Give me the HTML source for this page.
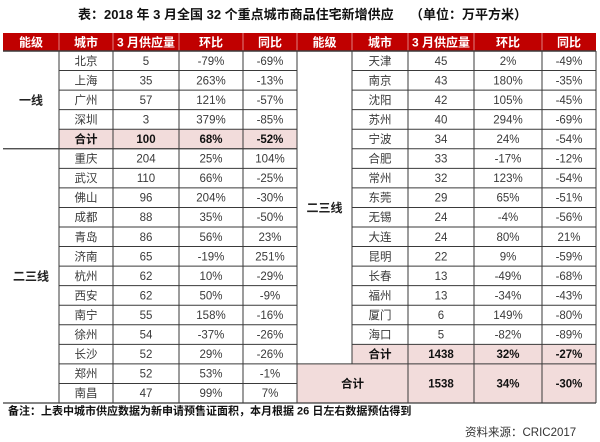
<!DOCTYPE html>
<html><head><meta charset="utf-8"><style>
html,body{margin:0;padding:0;background:#fff;}
svg{display:block;}
text{font-family:"Liberation Sans","Noto Sans CJK SC",sans-serif;}
</style></head><body>
<svg width="600" height="442" viewBox="0 0 600 442" xmlns="http://www.w3.org/2000/svg">
<rect width="600" height="442" fill="#fff"/>
<!-- title -->
<text x="78" y="19" font-size="13" font-weight="bold" fill="#111">表：2018 年 3 月全国 32 个重点城市商品住宅新增供应</text>
<text x="410" y="19" font-size="13" font-weight="bold" fill="#111">（单位：万平方米）</text>

<!-- header -->
<rect x="3" y="33" width="593" height="18" fill="#c00000"/>
<g stroke="#e6a0a0" stroke-width="0.8">
<line x1="59" y1="33" x2="59" y2="51"/><line x1="113" y1="33" x2="113" y2="51"/><line x1="179" y1="33" x2="179" y2="51"/><line x1="243" y1="33" x2="243" y2="51"/><line x1="297" y1="33" x2="297" y2="51"/>
<line x1="352" y1="33" x2="352" y2="51"/><line x1="408" y1="33" x2="408" y2="51"/><line x1="474" y1="33" x2="474" y2="51"/><line x1="542" y1="33" x2="542" y2="51"/>
</g>
<g font-size="12" font-weight="bold" fill="#fff" text-anchor="middle">
<text x="31" y="46.5">能级</text><text x="86" y="46.5">城市</text><text x="146" y="46.5">3 月供应量</text><text x="211" y="46.5">环比</text><text x="270" y="46.5">同比</text>
<text x="324.5" y="46.5">能级</text><text x="380" y="46.5">城市</text><text x="441" y="46.5">3 月供应量</text><text x="508" y="46.5">环比</text><text x="569" y="46.5">同比</text>
</g>

<!-- pink backgrounds -->
<rect x="59" y="129.22" width="238" height="19.56" fill="#f2dcdb"/>
<rect x="352" y="344.33" width="244" height="19.56" fill="#f2dcdb"/>
<rect x="297" y="363.89" width="299" height="39.11" fill="#f2dcdb"/>

<!-- grid lines -->
<g stroke="#3a3a3a" stroke-width="1">
<line x1="3" y1="51" x2="596" y2="51" stroke-width="1.5"/>
<!-- left horizontals -->
<line x1="59" y1="70.56" x2="297" y2="70.56"/>
<line x1="59" y1="90.11" x2="297" y2="90.11"/>
<line x1="59" y1="109.67" x2="297" y2="109.67"/>
<line x1="59" y1="129.22" x2="297" y2="129.22"/>
<line x1="3" y1="148.78" x2="297" y2="148.78" stroke-width="1.3"/>
<line x1="59" y1="168.33" x2="297" y2="168.33"/>
<line x1="59" y1="187.89" x2="297" y2="187.89"/>
<line x1="59" y1="207.44" x2="297" y2="207.44"/>
<line x1="59" y1="227" x2="297" y2="227"/>
<line x1="59" y1="246.56" x2="297" y2="246.56"/>
<line x1="59" y1="266.11" x2="297" y2="266.11"/>
<line x1="59" y1="285.67" x2="297" y2="285.67"/>
<line x1="59" y1="305.22" x2="297" y2="305.22"/>
<line x1="59" y1="324.78" x2="297" y2="324.78"/>
<line x1="59" y1="344.33" x2="297" y2="344.33"/>
<line x1="59" y1="363.89" x2="297" y2="363.89"/>
<line x1="59" y1="383.44" x2="297" y2="383.44"/>
<line x1="3" y1="403" x2="596" y2="403" stroke-width="1.3"/>
<!-- right horizontals -->
<line x1="352" y1="70.56" x2="596" y2="70.56"/>
<line x1="352" y1="90.11" x2="596" y2="90.11"/>
<line x1="352" y1="109.67" x2="596" y2="109.67"/>
<line x1="352" y1="129.22" x2="596" y2="129.22"/>
<line x1="352" y1="148.78" x2="596" y2="148.78"/>
<line x1="352" y1="168.33" x2="596" y2="168.33"/>
<line x1="352" y1="187.89" x2="596" y2="187.89"/>
<line x1="352" y1="207.44" x2="596" y2="207.44"/>
<line x1="352" y1="227" x2="596" y2="227"/>
<line x1="352" y1="246.56" x2="596" y2="246.56"/>
<line x1="352" y1="266.11" x2="596" y2="266.11"/>
<line x1="352" y1="285.67" x2="596" y2="285.67"/>
<line x1="352" y1="305.22" x2="596" y2="305.22"/>
<line x1="352" y1="324.78" x2="596" y2="324.78"/>
<line x1="352" y1="344.33" x2="596" y2="344.33"/>
<line x1="297" y1="363.89" x2="596" y2="363.89"/>
<!-- verticals -->
<line x1="59" y1="51" x2="59" y2="403"/>
<line x1="113" y1="51" x2="113" y2="403"/>
<line x1="179" y1="51" x2="179" y2="403"/>
<line x1="243" y1="51" x2="243" y2="403"/>
<line x1="297" y1="51" x2="297" y2="403"/>
<line x1="352" y1="51" x2="352" y2="363.89"/>
<line x1="408" y1="51" x2="408" y2="403"/>
<line x1="474" y1="51" x2="474" y2="403"/>
<line x1="542" y1="51" x2="542" y2="403"/>
<line x1="596" y1="51" x2="596" y2="403"/>
</g>

<!-- group labels -->
<g font-size="12" font-weight="bold" fill="#222" text-anchor="middle">
<text x="31" y="104.4">一线</text>
<text x="31" y="280.4">二三线</text>
<text x="324.5" y="211.9">二三线</text>
</g>

<!-- left data -->
<g font-size="11.5" fill="#3a3a3a" text-anchor="middle">
<text x="86" y="64.8">北京</text><text x="146" y="64.8">5</text><text x="211" y="64.8">-79%</text><text x="270" y="64.8">-69%</text>
<text x="86" y="84.4">上海</text><text x="146" y="84.4">35</text><text x="211" y="84.4">263%</text><text x="270" y="84.4">-13%</text>
<text x="86" y="103.9">广州</text><text x="146" y="103.9">57</text><text x="211" y="103.9">121%</text><text x="270" y="103.9">-57%</text>
<text x="86" y="123.5">深圳</text><text x="146" y="123.5">3</text><text x="211" y="123.5">379%</text><text x="270" y="123.5">-85%</text>
<text x="86" y="162.6">重庆</text><text x="146" y="162.6">204</text><text x="211" y="162.6">25%</text><text x="270" y="162.6">104%</text>
<text x="86" y="182.1">武汉</text><text x="146" y="182.1">110</text><text x="211" y="182.1">66%</text><text x="270" y="182.1">-25%</text>
<text x="86" y="201.7">佛山</text><text x="146" y="201.7">96</text><text x="211" y="201.7">204%</text><text x="270" y="201.7">-30%</text>
<text x="86" y="221.2">成都</text><text x="146" y="221.2">88</text><text x="211" y="221.2">35%</text><text x="270" y="221.2">-50%</text>
<text x="86" y="240.8">青岛</text><text x="146" y="240.8">86</text><text x="211" y="240.8">56%</text><text x="270" y="240.8">23%</text>
<text x="86" y="260.4">济南</text><text x="146" y="260.4">65</text><text x="211" y="260.4">-19%</text><text x="270" y="260.4">251%</text>
<text x="86" y="279.9">杭州</text><text x="146" y="279.9">62</text><text x="211" y="279.9">10%</text><text x="270" y="279.9">-29%</text>
<text x="86" y="299.5">西安</text><text x="146" y="299.5">62</text><text x="211" y="299.5">50%</text><text x="270" y="299.5">-9%</text>
<text x="86" y="319.0">南宁</text><text x="146" y="319.0">55</text><text x="211" y="319.0">158%</text><text x="270" y="319.0">-16%</text>
<text x="86" y="338.6">徐州</text><text x="146" y="338.6">54</text><text x="211" y="338.6">-37%</text><text x="270" y="338.6">-26%</text>
<text x="86" y="358.1">长沙</text><text x="146" y="358.1">52</text><text x="211" y="358.1">29%</text><text x="270" y="358.1">-26%</text>
<text x="86" y="377.7">郑州</text><text x="146" y="377.7">52</text><text x="211" y="377.7">53%</text><text x="270" y="377.7">-1%</text>
<text x="86" y="397.2">南昌</text><text x="146" y="397.2">47</text><text x="211" y="397.2">99%</text><text x="270" y="397.2">7%</text>
</g>
<g font-size="11.5" font-weight="bold" fill="#111" text-anchor="middle">
<text x="86" y="143.0">合计</text><text x="146" y="143.0">100</text><text x="211" y="143.0">68%</text><text x="270" y="143.0">-52%</text>
</g>

<!-- right data -->
<g font-size="11.5" fill="#3a3a3a" text-anchor="middle">
<text x="380" y="64.8">天津</text><text x="441" y="64.8">45</text><text x="508" y="64.8">2%</text><text x="569" y="64.8">-49%</text>
<text x="380" y="84.4">南京</text><text x="441" y="84.4">43</text><text x="508" y="84.4">180%</text><text x="569" y="84.4">-35%</text>
<text x="380" y="103.9">沈阳</text><text x="441" y="103.9">42</text><text x="508" y="103.9">105%</text><text x="569" y="103.9">-45%</text>
<text x="380" y="123.5">苏州</text><text x="441" y="123.5">40</text><text x="508" y="123.5">294%</text><text x="569" y="123.5">-69%</text>
<text x="380" y="143.0">宁波</text><text x="441" y="143.0">34</text><text x="508" y="143.0">24%</text><text x="569" y="143.0">-54%</text>
<text x="380" y="162.6">合肥</text><text x="441" y="162.6">33</text><text x="508" y="162.6">-17%</text><text x="569" y="162.6">-12%</text>
<text x="380" y="182.1">常州</text><text x="441" y="182.1">32</text><text x="508" y="182.1">123%</text><text x="569" y="182.1">-54%</text>
<text x="380" y="201.7">东莞</text><text x="441" y="201.7">29</text><text x="508" y="201.7">65%</text><text x="569" y="201.7">-51%</text>
<text x="380" y="221.2">无锡</text><text x="441" y="221.2">24</text><text x="508" y="221.2">-4%</text><text x="569" y="221.2">-56%</text>
<text x="380" y="240.8">大连</text><text x="441" y="240.8">24</text><text x="508" y="240.8">80%</text><text x="569" y="240.8">21%</text>
<text x="380" y="260.4">昆明</text><text x="441" y="260.4">22</text><text x="508" y="260.4">9%</text><text x="569" y="260.4">-59%</text>
<text x="380" y="279.9">长春</text><text x="441" y="279.9">13</text><text x="508" y="279.9">-49%</text><text x="569" y="279.9">-68%</text>
<text x="380" y="299.5">福州</text><text x="441" y="299.5">13</text><text x="508" y="299.5">-34%</text><text x="569" y="299.5">-43%</text>
<text x="380" y="319.0">厦门</text><text x="441" y="319.0">6</text><text x="508" y="319.0">149%</text><text x="569" y="319.0">-80%</text>
<text x="380" y="338.6">海口</text><text x="441" y="338.6">5</text><text x="508" y="338.6">-82%</text><text x="569" y="338.6">-89%</text>
</g>
<g font-size="11.5" font-weight="bold" fill="#111" text-anchor="middle">
<text x="380" y="358.1">合计</text><text x="441" y="358.1">1438</text><text x="508" y="358.1">32%</text><text x="569" y="358.1">-27%</text>
<text x="352.5" y="387.6">合计</text><text x="441" y="387.6">1538</text><text x="508" y="387.6">34%</text><text x="569" y="387.6">-30%</text>
</g>

<!-- footnotes -->
<text x="8" y="414.5" font-size="11" font-weight="bold" fill="#111">备注：上表中城市供应数据为新申请预售证面积，本月根据 26 日左右数据预估得到</text>
<text x="465" y="436" font-size="11.5" fill="#333">资料来源：CRIC2017</text>
</svg>
</body></html>
